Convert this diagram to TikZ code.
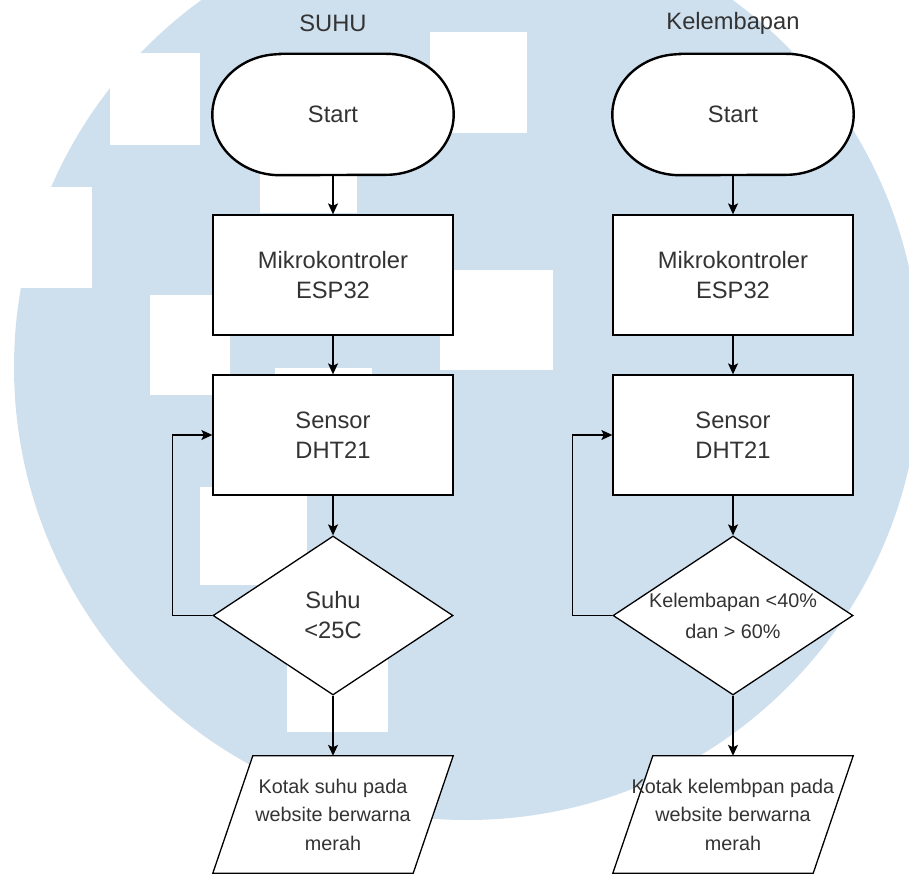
\documentclass[tikz,border=0pt]{standalone}
\usepackage{fontspec}
\setmainfont{Liberation Sans}
\usetikzlibrary{shapes.geometric,arrows.meta,backgrounds}
\definecolor{logoblue}{RGB}{206,223,238}
\begin{document}
\begin{tikzpicture}[x=1pt, y=-1pt,
	box/.style = {draw, line width=1.3pt, fill=white, minimum width=240pt, minimum height=120pt, inner sep=0pt, align=center, text=black!80, font=\fontsize{23.7}{30}\selectfont},
	term/.style = {minimum width=241pt, minimum height=121pt, inner sep=0pt, text=black!80, font=\fontsize{23.7}{30}\selectfont},
	decide/.style = {diamond, draw, line width=1.3pt, fill=white, minimum width=240pt, minimum height=159pt, aspect=1.5, inner sep=0pt, align=center, text=black!80},
	output/.style = {minimum width=240pt, minimum height=117pt, inner sep=0pt, align=center, text=black!80, font=\fontsize{19.8}{28.5}\selectfont},
	line/.style = {line width=1.3pt, -{Stealth[length=11pt,width=10pt,inset=2.5pt]}},
	title/.style = {text=black!80, font=\fontsize{23.7}{30}\selectfont}]
	\useasboundingbox (0,0) rectangle (909,875);
	% watermark
	\begin{scope}[on background layer]
	\fill[logoblue] (467,367) circle[radius=453pt];
	\foreach \xa/\ya/\xb/\yb in {110/53/200/145, 0/187/92/288, 260/120/357/213, 430/32/527/133, 440/270/553/370, 150/295/230/395, 275/368/372/400, 200/487/307/585, 287/630/388/732}
		\fill[white] (\xa,\ya) rectangle (\xb,\yb);
	\end{scope}
	% SUHU
	\node [title] (titleL) at (333,23) {SUHU};
	\node [term] (startL) at (333,114.5) {Start};
	\node [box] (mikroL) at (333,275) {Mikrokontroler\\ESP32};
	\node [box] (sensorL) at (333,435) {Sensor\\DHT21};
	\node [decide, font=\fontsize{23.7}{30}\selectfont] (cekL) at (333,615.5) {Suhu\\<25C};
	\node [output] (outL) at (333,814.5) {Kotak suhu pada\\website berwarna\\merah};
	% Kelembapan
	\node [title] (titleR) at (733,23) {Kelembapan};
	\node [term] (startR) at (733,114.5) {Start};
	\node [box] (mikroR) at (733,275) {Mikrokontroler\\ESP32};
	\node [box] (sensorR) at (733,435) {Sensor\\DHT21};
	\node [decide, font=\fontsize{19.8}{31}\selectfont] (cekR) at (733,615.5) {Kelembapan <40\%\\dan > 60\%};
	\node [output] (outR) at (733,814.5) {Kotak kelembpan pada\\website berwarna\\merah};
	% outlines of start and output
	\begin{scope}[on background layer]
	\foreach \n in {startL,startR}
		\draw[line width=2.4pt, fill=white] ([xshift=67.5pt]\n.north west) -- ([xshift=-67.5pt]\n.north east)
			arc[start angle=90, end angle=-90, x radius=67.5pt, y radius=60.5pt]
			-- ([xshift=67.5pt]\n.south west)
			arc[start angle=270, end angle=90, x radius=67.5pt, y radius=60.5pt] -- cycle;
	\foreach \n in {outL,outR}
		\draw[line width=1.3pt, fill=white] ([xshift=40pt]\n.north west) -- (\n.north east) -- ([xshift=-40pt]\n.south east) -- (\n.south west) -- cycle;
	\end{scope}
	% arrows
	\foreach \s in {L,R} {
		\draw [line] (start\s) -- (mikro\s);
		\draw [line] (mikro\s) -- (sensor\s);
		\draw [line] (sensor\s) -- (cek\s);
		\draw [line] (cek\s) -- (out\s);
		\draw [line] (cek\s.west) -- ++(-40,0) |- (sensor\s.west);
	}
\end{tikzpicture}
\end{document}
